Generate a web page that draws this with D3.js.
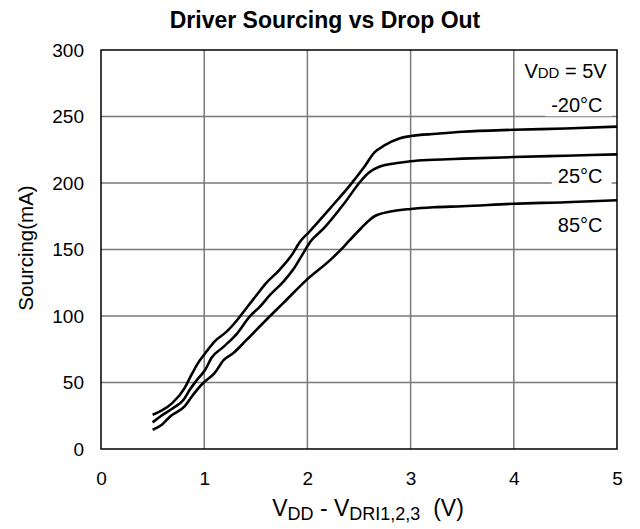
<!DOCTYPE html>
<html>
<head>
<meta charset="utf-8">
<script src="https://d3js.org/d3.v7.min.js"></script>
<style>
    body { margin: 0; background: #fff; }
    svg { font-family: "Liberation Sans", Arial, sans-serif; }
    .tick-lbl { font-size: 19px; fill: #000; }
</style>
</head>
<body>
<div id="chart"></div>
<script>
    // data
    var xTicks = [0, 1, 2, 3, 4, 5];
    var yTicks = [0, 50, 100, 150, 200, 250, 300];

    var vM20 = [0.5, 0.59, 0.69, 0.81, 0.86, 0.94, 1.01, 1.1, 1.22, 1.32, 1.41, 1.51, 1.6, 1.73, 1.85, 1.93, 2.02, 2.22, 2.42, 2.55, 2.65, 2.75, 2.89, 3.0, 3.25, 3.5, 4.0, 4.5, 5.0];
    var iM20 = [25.8, 29, 34.5, 45.8, 53.3, 64.6, 72, 80.8, 88.4, 97, 106, 116, 124.7, 134.7, 146, 156, 163.5, 181, 199, 212, 223, 228.4, 233.5, 235.3, 237, 238.5, 240, 241, 242.4];

    var v25 = [0.5, 0.6, 0.7, 0.8, 0.86, 0.93, 1.01, 1.07, 1.19, 1.32, 1.44, 1.54, 1.64, 1.77, 1.86, 1.95, 2.03, 2.16, 2.36, 2.52, 2.6, 2.69, 2.89, 3.0, 3.22, 3.5, 4.0, 4.5, 5.0];
    var i25 = [20, 25.8, 30.8, 37, 44.5, 52, 59.6, 68.4, 77, 87, 99.6, 107, 116, 126, 134.7, 146, 156, 166, 185, 201.7, 208, 212, 215.2, 216.4, 217.5, 218.3, 219.5, 220.5, 221.5];

    var v85 = [0.5, 0.59, 0.67, 0.81, 0.88, 0.99, 1.1, 1.19, 1.28, 1.41, 1.6, 1.77, 1.99, 2.22, 2.32, 2.41, 2.52, 2.6, 2.65, 2.82, 3.0, 3.22, 3.5, 4.0, 4.5, 5.0];
    var i85 = [14.5, 18.3, 24.5, 32, 39.5, 49.6, 57, 67, 72, 82, 97, 110, 127, 142, 149.5, 157, 166, 172, 175, 178.7, 180.5, 181.8, 182.5, 184.4, 185.5, 187];

    var seriesNames = ["-20°C", "25°C", "85°C"];
    // where the temperature labels sit (in data units)
    var labelY = [253.2, 199.8, 163.4];

    var W = 640, H = 529;
    var margin = { top: 50, right: 23, bottom: 80, left: 101 },
        width = W - margin.left - margin.right,
        height = H - margin.top - margin.bottom;

    var svg = d3.select("#chart").append("svg")
        .attr("width", W)
        .attr("height", H);

    var g = svg.append("g")
        .attr("transform", "translate(" + margin.left + "," + margin.top + ")");

    var x = d3.scaleLinear().domain([0, 5]).range([0, width]);
    var y = d3.scaleLinear().domain([0, 300]).range([height, 0]);

    // grid
    g.append("g").selectAll("line")
        .data(xTicks.slice(1, -1))
        .enter().append("line")
        .attr("x1", function(d) { return x(d); })
        .attr("x2", function(d) { return x(d); })
        .attr("y1", 0).attr("y2", height)
        .attr("stroke", "#7a7a7a").attr("stroke-width", 1.5);
    g.append("g").selectAll("line")
        .data(yTicks.slice(1, -1))
        .enter().append("line")
        .attr("y1", function(d) { return y(d); })
        .attr("y2", function(d) { return y(d); })
        .attr("x1", 0).attr("x2", width)
        .attr("stroke", "#7a7a7a").attr("stroke-width", 1.5);

    // axes (labels only)
    var xAxis = g.append("g")
        .attr("transform", "translate(0," + height + ")")
        .call(d3.axisBottom(x).tickValues(xTicks).tickSize(0).tickPadding(23).tickFormat(d3.format("d")));
    var yAxis = g.append("g")
        .call(d3.axisLeft(y).tickValues(yTicks).tickSize(0).tickPadding(17).tickFormat(d3.format("d")));
    [xAxis, yAxis].forEach(function(a) {
        a.select(".domain").remove();
        a.selectAll("text").attr("class", "tick-lbl").attr("font-family", null).attr("font-size", null);
    });

    // curves
    var line = d3.line()
        .x(function(d) { return x(d[0]); })
        .y(function(d) { return y(d[1]); })
        .curve(d3.curveMonotoneX);

    var curves = [d3.zip(vM20, iM20), d3.zip(v25, i25), d3.zip(v85, i85)];
    g.selectAll(".curve")
        .data(curves)
        .enter().append("path")
        .attr("class", "curve")
        .attr("d", line)
        .attr("fill", "none")
        .attr("stroke", "#000")
        .attr("stroke-width", 2.6)
        .attr("stroke-linejoin", "round");

    // temperature labels with white backing
    var lab = g.append("g").selectAll("g")
        .data(seriesNames)
        .enter().append("g");
    lab.each(function(d, i) {
        var grp = d3.select(this);
        var rect = grp.append("rect").attr("fill", "#fff");
        var t = grp.append("text")
            .attr("x", x(4.86))
            .attr("y", y(labelY[i]))
            .attr("text-anchor", "end")
            .attr("font-size", 20)
            .text(d);
        var bb = t.node().getBBox();
        rect.attr("x", bb.x - 6).attr("y", bb.y).attr("width", bb.width + 15).attr("height", bb.height);
    });

    // VDD = 5V
    var vdd = g.append("text")
        .attr("x", x(4.9))
        .attr("y", y(278.6))
        .attr("text-anchor", "end")
        .attr("font-size", 20);
    vdd.append("tspan").text("V");
    vdd.append("tspan").attr("font-size", 15).text("DD");
    vdd.append("tspan").text(" = 5V");

    // frame
    g.append("rect")
        .attr("width", width).attr("height", height)
        .attr("fill", "none")
        .attr("stroke", "#000").attr("stroke-width", 1.5);

    // title
    svg.append("text")
        .attr("x", 325).attr("y", 28)
        .attr("text-anchor", "middle")
        .attr("font-size", 23).attr("font-weight", "bold")
        .text("Driver Sourcing vs Drop Out");

    // y label
    svg.append("text")
        .attr("transform", "translate(33,248) rotate(-90)")
        .attr("text-anchor", "middle")
        .attr("font-size", 20.5)
        .text("Sourcing(mA)");

    // x label
    var xl = svg.append("text")
        .attr("x", 368).attr("y", 516)
        .attr("text-anchor", "middle")
        .attr("font-size", 23);
    xl.append("tspan").text("V");
    xl.append("tspan").attr("font-size", 18).attr("dy", 4).text("DD");
    xl.append("tspan").attr("dy", -4).text(" - V");
    xl.append("tspan").attr("font-size", 18).attr("dy", 4).text("DRI1,2,3");
    xl.append("tspan").attr("dy", -4).attr("xml:space", "preserve").text("  (V)");
</script>
</body>
</html>
